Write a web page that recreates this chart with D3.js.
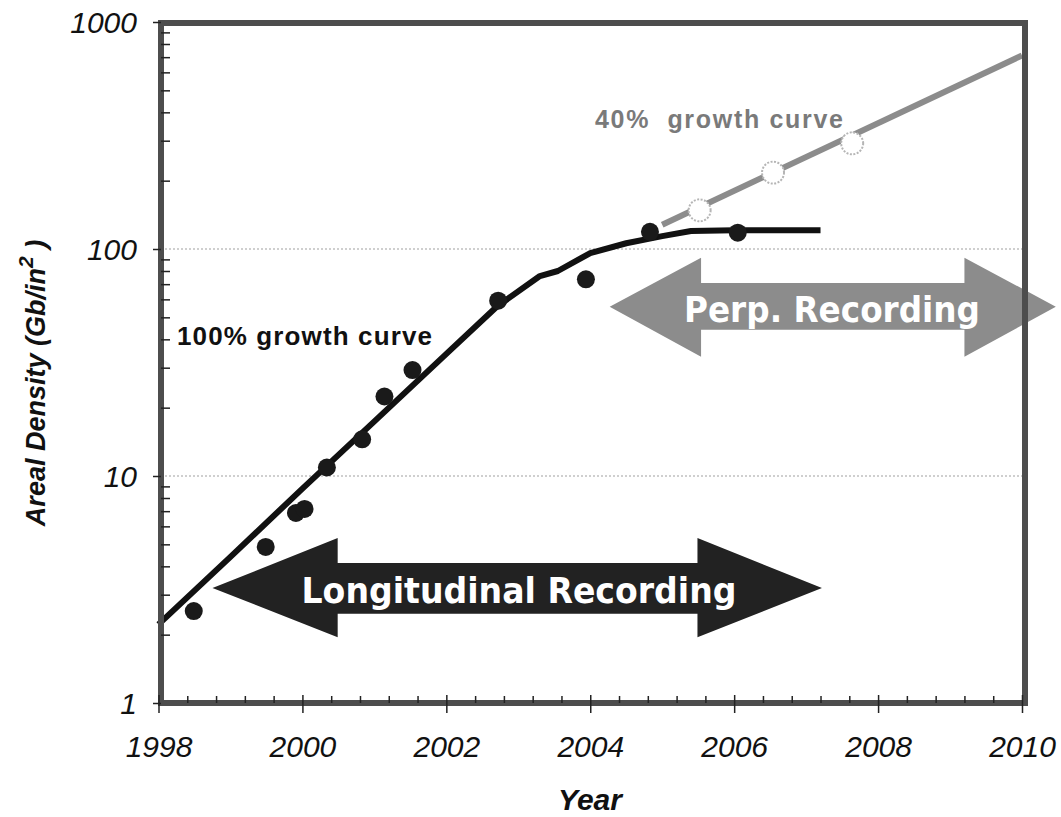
<!DOCTYPE html>
<html>
<head>
<meta charset="utf-8">
<script src="https://cdn.jsdelivr.net/npm/d3@7"></script>
<style>
  html, body { margin: 0; padding: 0; background: #fff; }
  svg { display: block; }
  .arial { font-family: "Liberation Sans", Arial, Helvetica, sans-serif; }
</style>
</head>
<body>
<svg id="chart" width="1061" height="817"></svg>
<script>
// ---------------- data ----------------
const xMajorTicks = [1998, 2000, 2002, 2004, 2006, 2008, 2010];
const yMajorTicks = [1, 10, 100, 1000];
const yGridValues = [10, 100];

// measured data points (filled dots)
const dotYears  = [1998.49, 1999.49, 1999.91, 2000.03, 2000.34, 2000.83, 2001.14, 2001.53, 2002.72, 2003.94, 2004.83, 2006.05];
const dotValues = [2.54, 4.87, 6.87, 7.16, 10.9, 14.5, 22.4, 29.3, 59.2, 73.5, 119, 118];

// projected points (open circles)
const openYears  = [2005.52, 2006.54, 2007.64];
const openValues = [148, 217, 292];

// 100% growth curve (black)
const curveYears  = [1998, 1999, 2000, 2001, 2002, 2002.7, 2003.3, 2003.55, 2004.0, 2004.5, 2005.0, 2005.4, 2006.0, 2007.2];
const curveValues = [2.22, 4.4, 8.8, 17.4, 34.5, 55.7, 76, 80, 96, 106, 114, 120, 121, 121];

// 40% growth curve (gray)
const growth40Years  = [2005.0, 2010.0];
const growth40Values = [128, 712];

// arrow annotations (data units)
const longArrow = { tipL: 1998.75, headL: 2000.49, headR: 2005.49, tipR: 2007.22,
                    mid: 3.21, headTop: 5.33, headBot: 1.95, shaftTop: 4.14, shaftBot: 2.47,
                    label: "Longitudinal Recording" };
const perpArrow = { tipL: 2004.27, headL: 2005.54, headR: 2009.20, tipR: 2010.47,
                    mid: 55.7, headTop: 91.5, headBot: 33.5, shaftTop: 70.8, shaftBot: 44.1,
                    label: "Perp. Recording" };

// ---------------- drawing ----------------
const svg = d3.select("#chart");
const x = d3.scaleLinear().domain([1998, 2010]).range([158.5, 1022]);
const y = d3.scaleLog().domain([1, 1000]).range([703, 22]);

const frame = { left: 161, top: 23, right: 1025, bottom: 703 };

// gridlines
svg.append("g").selectAll("line").data(yGridValues).join("line")
  .attr("x1", frame.left).attr("x2", frame.right)
  .attr("y1", d => y(d)).attr("y2", d => y(d))
  .attr("stroke", "#cfcfcf").attr("stroke-width", 2).attr("stroke-dasharray", "2,2");

// arrows
function arrowPath(a) {
  return [
    [x(a.tipL), y(a.mid)],
    [x(a.headL), y(a.headTop)],
    [x(a.headL), y(a.shaftTop)],
    [x(a.headR), y(a.shaftTop)],
    [x(a.headR), y(a.headTop)],
    [x(a.tipR), y(a.mid)],
    [x(a.headR), y(a.headBot)],
    [x(a.headR), y(a.shaftBot)],
    [x(a.headL), y(a.shaftBot)],
    [x(a.headL), y(a.headBot)]
  ];
}
const line = d3.line();
svg.append("path").attr("d", line(arrowPath(longArrow)) + "Z").attr("fill", "#222");
svg.append("path").attr("d", line(arrowPath(perpArrow)) + "Z").attr("fill", "#8c8c8c");

svg.append("text").text(longArrow.label)
  .attr("x", 519).attr("y", 603)
  .attr("text-anchor", "middle").attr("fill", "#fff")
  .attr("font-family", "DejaVu Sans").attr("font-weight", "bold").attr("font-size", 36)
  .attr("textLength", 435).attr("lengthAdjust", "spacingAndGlyphs");
svg.append("text").text(perpArrow.label)
  .attr("x", 832).attr("y", 322)
  .attr("text-anchor", "middle").attr("fill", "#fff")
  .attr("font-family", "DejaVu Sans").attr("font-weight", "bold").attr("font-size", 35)
  .attr("textLength", 296).attr("lengthAdjust", "spacingAndGlyphs");

// 40% growth line
svg.append("path")
  .attr("d", d3.line().x(d => x(d[0])).y(d => y(d[1]))(growth40Years.map((t, i) => [t, growth40Values[i]])))
  .attr("fill", "none").attr("stroke", "#8c8c8c").attr("stroke-width", 6);

// 100% curve
svg.append("path")
  .attr("d", d3.line().x(d => x(d[0])).y(d => y(d[1]))(curveYears.map((t, i) => [t, curveValues[i]])))
  .attr("fill", "none").attr("stroke", "#111").attr("stroke-width", 6).attr("stroke-linejoin", "round");

// filled dots
svg.append("g").selectAll("circle").data(dotYears.map((t, i) => [t, dotValues[i]])).join("circle")
  .attr("cx", d => x(d[0])).attr("cy", d => y(d[1])).attr("r", 9)
  .attr("fill", "#1a1a1a");

// open circles
svg.append("g").selectAll("circle").data(openYears.map((t, i) => [t, openValues[i]])).join("circle")
  .attr("cx", d => x(d[0])).attr("cy", d => y(d[1])).attr("r", 11)
  .attr("fill", "#fff").attr("stroke", "#b5b5b5").attr("stroke-width", 2).attr("stroke-dasharray", "2,1.5");

// curve labels
svg.append("text").text("100% growth curve").attr("class", "arial")
  .attr("x", 177).attr("y", 345).attr("fill", "#111")
  .attr("font-weight", "bold").attr("font-size", 26)
  .attr("textLength", 255).attr("lengthAdjust", "spacing");
svg.append("text").text("40%  growth curve").attr("class", "arial")
  .style("white-space", "pre")
  .attr("x", 595).attr("y", 128).attr("fill", "#7a7a7a")
  .attr("font-weight", "bold").attr("font-size", 25)
  .attr("textLength", 248).attr("lengthAdjust", "spacing");

// frame
svg.append("rect")
  .attr("x", frame.left).attr("y", frame.top)
  .attr("width", frame.right - frame.left).attr("height", frame.bottom - frame.top)
  .attr("fill", "none").attr("stroke", "#4d4d4d").attr("stroke-width", 6);

// axes
// y minor ticks (inward)
const yMinor = [];
[1, 10, 100].forEach(b => { for (let k = 2; k <= 9; k++) yMinor.push(b * k); });
svg.append("g").attr("transform", `translate(${frame.left},0)`)
  .call(d3.axisLeft(y).tickValues(yMinor).tickSize(-9).tickFormat(""))
  .call(g => g.select(".domain").remove())
  .call(g => g.selectAll("line").attr("stroke", "#222").attr("stroke-width", 1.5));
// y major ticks and labels
svg.append("g").attr("transform", `translate(${frame.left},0)`)
  .call(d3.axisLeft(y).tickValues(yMajorTicks).tickSize(8).tickPadding(16).tickFormat(d3.format("d")))
  .call(g => g.select(".domain").remove())
  .call(g => g.selectAll("line").attr("stroke", "#222").attr("stroke-width", 1.5))
  .call(g => g.selectAll("text").attr("class", "arial").attr("font-family", null).attr("font-style", "italic")
    .attr("font-size", 30).attr("fill", "#111").attr("dy", "0.36em"));

// x minor ticks (upward)
const xMinor = [];
for (let i = 0; i <= 30; i++) { const v = +(1998 + i * 0.4).toFixed(1); if (!xMajorTicks.includes(v)) xMinor.push(v); }
svg.append("g").attr("transform", `translate(0,${frame.bottom})`)
  .call(d3.axisBottom(x).tickValues(xMinor).tickSize(-7).tickFormat(""))
  .call(g => g.select(".domain").remove())
  .call(g => g.selectAll("line").attr("stroke", "#222").attr("stroke-width", 1.5));
// x major ticks crossing axis
svg.append("g").attr("transform", `translate(0,${frame.bottom})`)
  .call(d3.axisBottom(x).tickValues(xMajorTicks).tickSize(-8).tickFormat(""))
  .call(g => g.select(".domain").remove())
  .call(g => g.selectAll("line").attr("stroke", "#222").attr("stroke-width", 1.5));
svg.append("g").attr("transform", `translate(0,${frame.bottom})`)
  .call(d3.axisBottom(x).tickValues(xMajorTicks).tickSize(10).tickPadding(23).tickFormat(d3.format("d")))
  .call(g => g.select(".domain").remove())
  .call(g => g.selectAll("line").attr("stroke", "#222").attr("stroke-width", 1.5))
  .call(g => g.selectAll("text").attr("class", "arial").attr("font-family", null).attr("font-style", "italic")
    .attr("font-size", 30).attr("fill", "#111"));

// axis titles
svg.append("text").text("Year").attr("class", "arial")
  .attr("x", 590).attr("y", 810).attr("text-anchor", "middle")
  .attr("font-style", "italic").attr("font-weight", "bold")
  .attr("font-size", 30).attr("fill", "#111");

const yt = svg.append("text").attr("class", "arial")
  .attr("transform", "translate(45,383) rotate(-90)")
  .attr("text-anchor", "middle")
  .attr("font-style", "italic").attr("font-weight", "bold")
  .attr("font-size", 27).attr("fill", "#111");
yt.append("tspan").text("Areal Density (Gb/in");
yt.append("tspan").text("2").attr("dy", -12).attr("font-size", 21);
yt.append("tspan").text(" )").attr("dy", 12).style("white-space", "pre");
</script>
</body>
</html>
